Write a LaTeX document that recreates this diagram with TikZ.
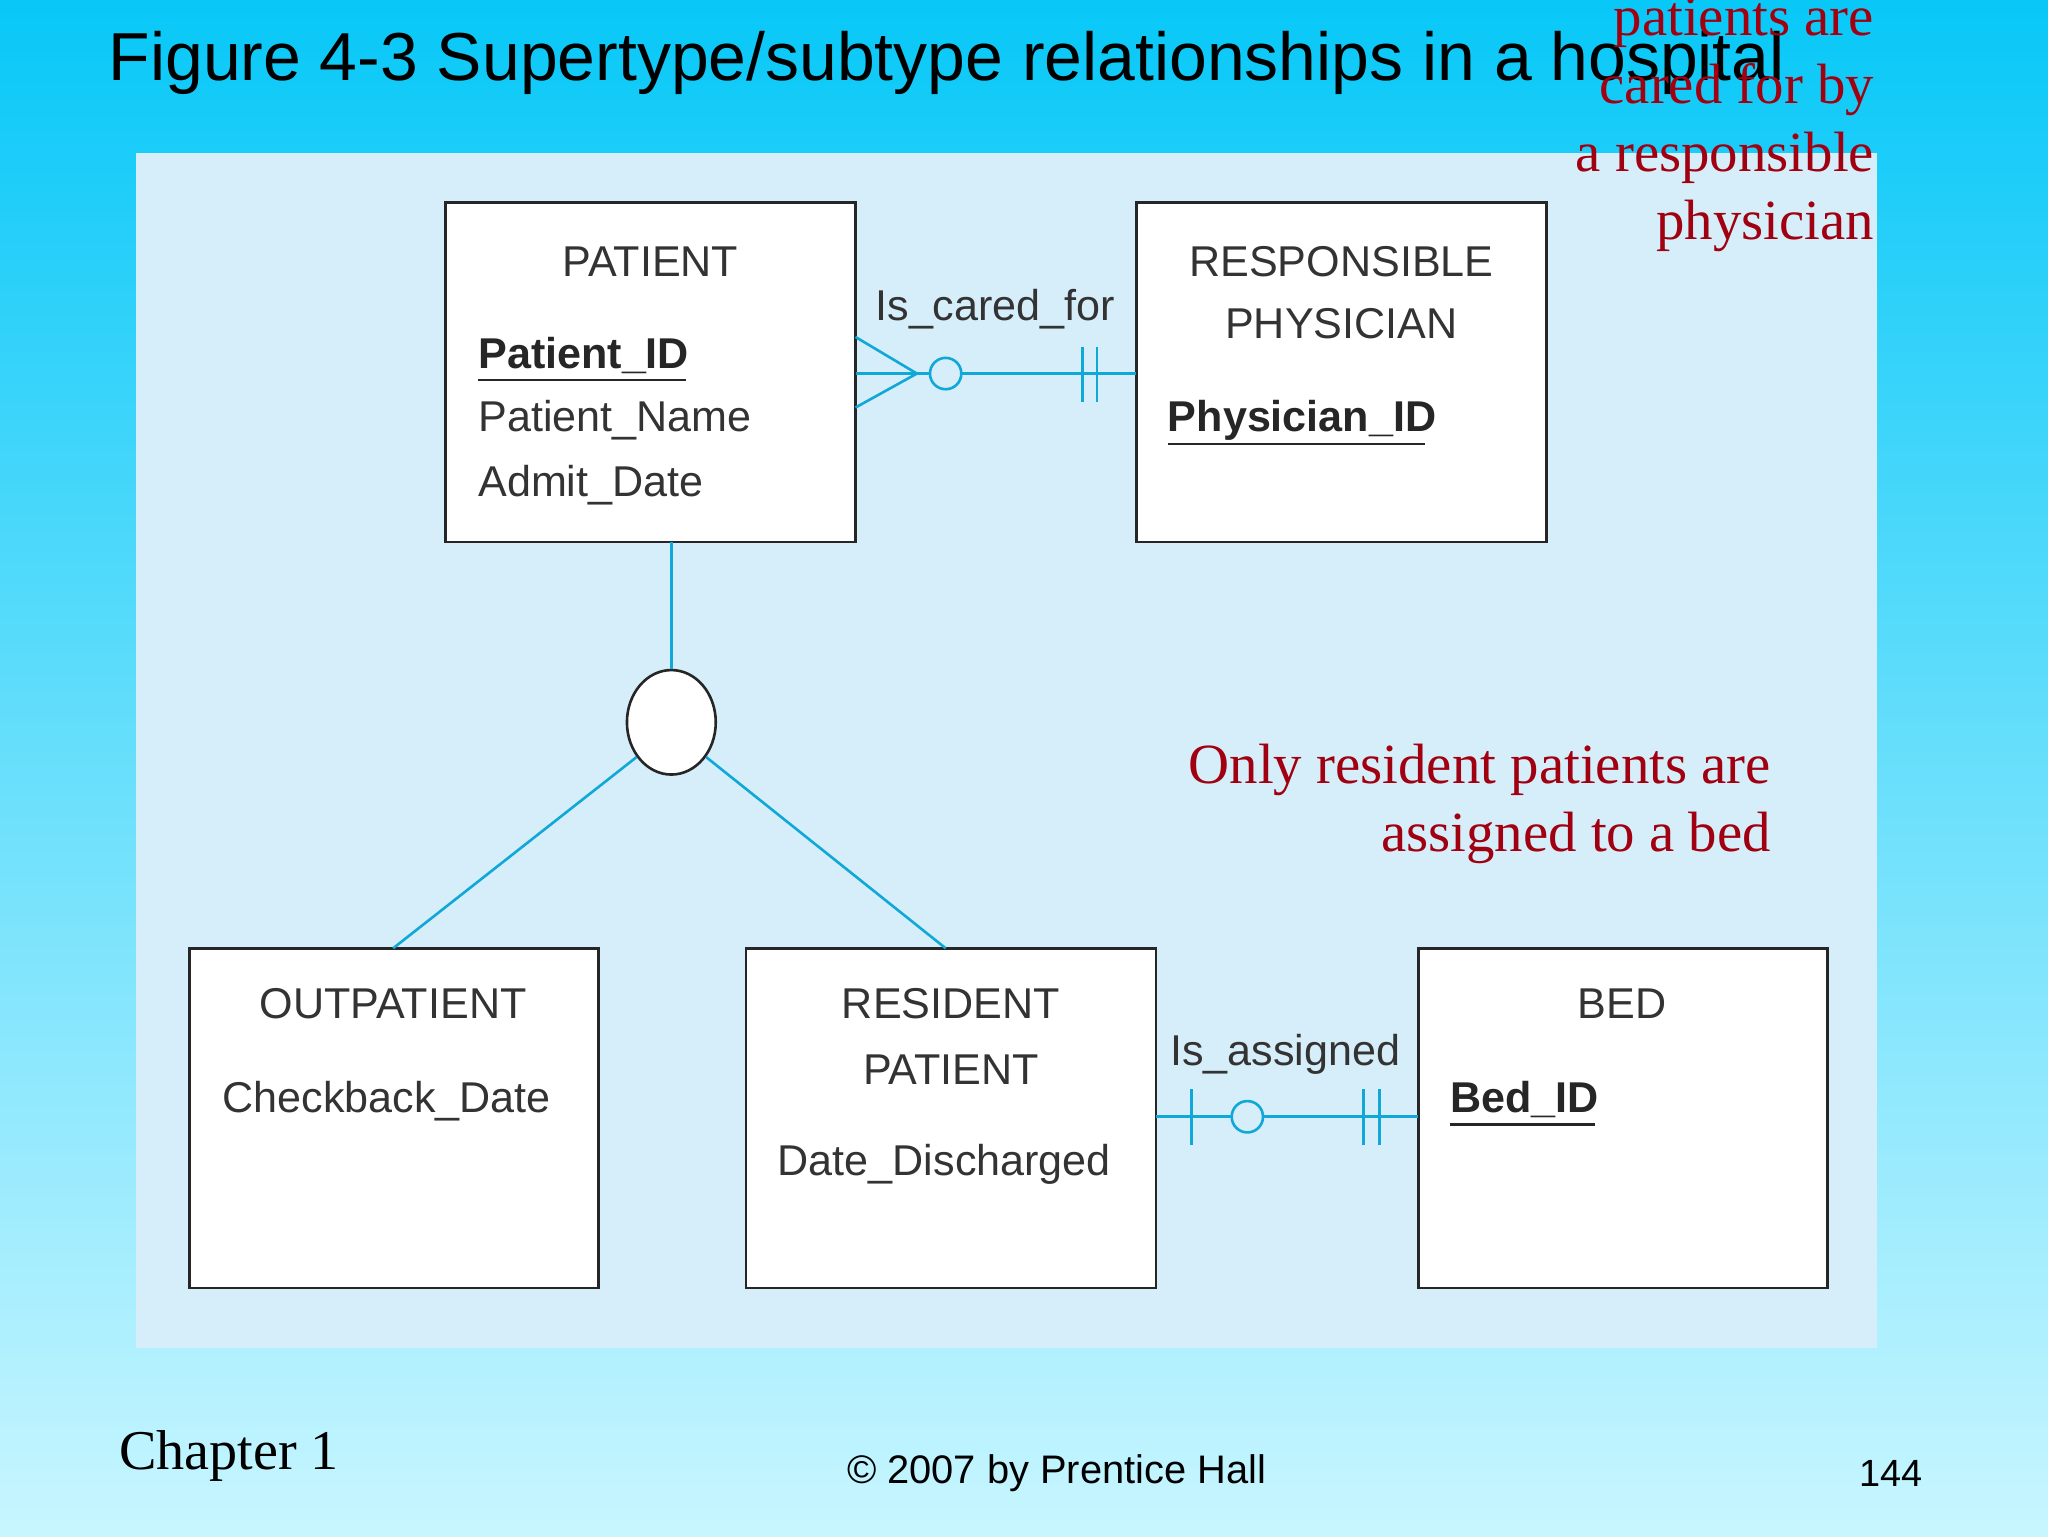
\documentclass[tikz,border=0pt]{standalone}
\usepackage{fontspec}
\setmainfont{Liberation Serif}
\setsansfont{Liberation Sans}
\usetikzlibrary{positioning,shapes.geometric}
\definecolor{topc}{HTML}{08C8F8}
\definecolor{botc}{HTML}{C8F6FF}
\definecolor{panel}{HTML}{D6EEF9}
\definecolor{lnk}{HTML}{10A8D8}
\definecolor{dred}{HTML}{A00010}
\newcommand{\fs}[2]{\fontsize{#1}{#2}\selectfont}
\begin{document}
\begin{tikzpicture}[x=1pt,y=-1pt,
  ent/.style={draw=black!85,line width=2pt,fill=white},
  lab/.style={font=\sffamily\fs{33}{33}\color{black!80},inner sep=0pt},
  key/.style={font=\sffamily\bfseries\fs{33}{33}\color{black!85},inner sep=0pt},
  rel/.style={draw=lnk,line width=2pt},
  note/.style={font=\fs{43.5}{52}\color{dred},inner sep=0pt,align=right}]
\useasboundingbox (0,0) rectangle (1568,1176);
\shade[top color=topc,bottom color=botc] (0,0) rectangle (1568,1176);
\fill[panel] (104,117) rectangle (1437,1032);
\node[anchor=base west,inner sep=0pt,font=\sffamily\fs{52}{52}] (title) at (83,62) {Figure 4-3 Supertype/subtype relationships in a hospital};
% entities
\draw[ent] (341,155) rectangle (655,415);
\draw[ent] (870,155) rectangle (1184,415);
\draw[ent] (145,726) rectangle (458,986);
\draw[ent] (571,726) rectangle (885,986);
\draw[ent] (1086,726) rectangle (1399,986);
\node[lab,anchor=base] (pt) at (498,212) {PATIENT};
\node[key,anchor=base west] (pid) at (366,282) {Patient\_ID};
\draw[black!85,line width=2pt] (366,291) -- (525,291);
\node[lab,anchor=base west] (pn) at (366,330) {Patient\_Name};
\node[lab,anchor=base west] (ad) at (366,380) {Admit\_Date};
\node[lab,anchor=base] (rp) at (1027,212) {RESPONSIBLE};
\node[lab,anchor=base] (rp2) at (1027,259) {PHYSICIAN};
\node[key,anchor=base west] (phid) at (894,330) {Physician\_ID};
\draw[black!85,line width=2pt] (894,340) -- (1091,340);
\node[lab,anchor=base] (op) at (301,780) {OUTPATIENT};
\node[lab,anchor=base] (cd) at (296,852) {Checkback\_Date};
\node[lab,anchor=base] (rs) at (728,780) {RESIDENT};
\node[lab,anchor=base] (rs2) at (728,830) {PATIENT};
\node[lab,anchor=base] (dd) at (723,900) {Date\_Discharged};
\node[lab,anchor=base] (bed) at (1242,780) {BED};
\node[key,anchor=base west] (bid) at (1110,852) {Bed\_ID};
\draw[black!85,line width=2pt] (1110,861) -- (1221,861);
% subtype circle
\node[draw=black!85,line width=2pt,fill=white,ellipse,minimum width=68pt,minimum height=80pt,inner sep=0pt] (st) at (514,553) {};
\draw[rel] (514,415) -- (st.north);
\draw[rel] (st.225) -- (301,726);
\draw[rel] (st.-45) -- (724,726);
% Is_cared_for
\draw[rel] (655,286) -- (870,286);
\draw[rel] (655,258) -- (702,286) -- (655,312);
\draw[rel,fill=panel] (724,286) circle (12);
\draw[rel] (829,266) -- (829,308) (840,266) -- (840,308);
\node[lab,anchor=base] (icf) at (762,245) {Is\_cared\_for};
% Is_assigned
\draw[rel] (885,855) -- (1086,855);
\draw[rel] (912,834) -- (912,877);
\draw[rel,fill=panel] (955,855) circle (12);
\draw[rel] (1044,834) -- (1044,877) (1056,834) -- (1056,877);
\node[lab,anchor=base] (ia) at (984,816) {Is\_assigned};
% notes
\node[note,anchor=base east] (n1) at (1435,183) {Both\\outpatients\\and resident\\patients are\\cared for by\\a responsible\\physician};
\node[note,anchor=base east] (n2) at (1356,652) {Only resident patients are\\assigned to a bed};
% footer
\node[anchor=base west,inner sep=0pt,font=\fs{43}{43}] (ch) at (91,1125) {Chapter 1};
\node[anchor=base,inner sep=0pt,font=\sffamily\fs{30.5}{30.5}] (cp) at (809,1136) {\textcopyright{} 2007 by Prentice Hall};
\node[anchor=base east,inner sep=0pt,font=\sffamily\fs{29}{29}] (pg) at (1472,1138) {144};
\end{tikzpicture}
\end{document}
